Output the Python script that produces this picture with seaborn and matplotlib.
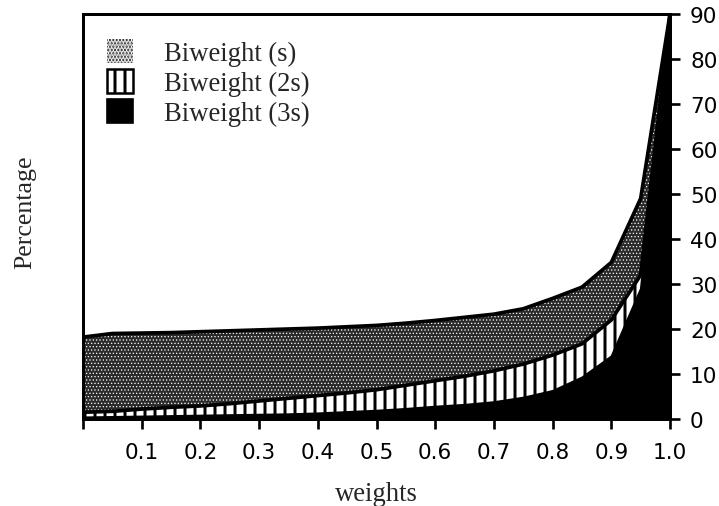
import matplotlib
matplotlib.use("Agg")
import matplotlib.pyplot as plt
from matplotlib.patches import Patch
import seaborn as sns
import pandas as pd

# cumulative percentage of observations whose weight falls below each value
weights = [0.0, 0.05, 0.10, 0.15, 0.20, 0.25, 0.30, 0.35, 0.40, 0.45, 0.50,
           0.55, 0.60, 0.65, 0.70, 0.75, 0.80, 0.85, 0.90, 0.95, 1.0]
biweight_s = [18.2, 19.0, 19.1, 19.2, 19.4, 19.6, 19.8, 20.0, 20.2, 20.5, 20.8,
              21.3, 21.9, 22.6, 23.3, 24.5, 26.8, 29.3, 34.8, 49.0, 90.0]
biweight_2s = [1.5, 1.7, 2.2, 2.6, 2.9, 3.4, 4.0, 4.6, 5.2, 5.8, 6.5,
               7.5, 8.5, 9.5, 10.7, 12.2, 14.2, 16.7, 22.0, 32.0, 90.0]
biweight_3s = [0.4, 0.5, 0.6, 0.7, 0.8, 0.9, 1.0, 1.1, 1.3, 1.6, 1.9,
               2.3, 2.8, 3.2, 3.8, 4.8, 6.3, 9.3, 14.0, 29.0, 90.0]
series_labels = ["Biweight (s)", "Biweight (2s)", "Biweight (3s)"]
x_ticks = [0.0, 0.1, 0.2, 0.3, 0.4, 0.5, 0.6, 0.7, 0.8, 0.9, 1.0]
x_tick_labels = ["", "0.1", "0.2", "0.3", "0.4", "0.5", "0.6", "0.7", "0.8", "0.9", "1.0"]
y_ticks = [0, 10, 20, 30, 40, 50, 60, 70, 80, 90]

df = pd.DataFrame({"weights": weights, "s": biweight_s,
                   "2s": biweight_2s, "3s": biweight_3s})

DPI = 120
sns.set_theme(style="white")
serif = ["Liberation Serif", "DejaVu Serif"]
sans = ["DejaVu Sans"]

DOT_LW = 0.45     # fine stipple dots
STRIPE_LW = 1.8   # thick vertical stripes

fig = plt.figure(figsize=(719 / DPI, 507 / DPI), dpi=DPI)
ax = fig.add_axes([83 / 719, 1 - 420 / 507, (670 - 83) / 719, (420 - 15) / 507])

stipple_face = "#2a2a2a"
stipple_dots = "#f4f4f4"
stipple_hatch = "......"

# Biweight (s): stippled band
plt.rcParams["hatch.linewidth"] = DOT_LW
ax.fill_between(df["weights"], 0, df["s"], facecolor=stipple_face, edgecolor="none",
                linewidth=0, zorder=1)
ax.fill_between(df["weights"], 0, df["s"], facecolor="none", edgecolor=stipple_dots,
                hatch=stipple_hatch, linewidth=0, zorder=1.1)
stipple_handle = Patch(facecolor=stipple_face, edgecolor=stipple_dots,
                       hatch=stipple_hatch, linewidth=0)
sns.lineplot(data=df, x="weights", y="s", ax=ax, color="black", linewidth=2.2, zorder=1.2)

# Biweight (2s): vertical stripes
plt.rcParams["hatch.linewidth"] = STRIPE_LW
ax.fill_between(df["weights"], 0, df["2s"], facecolor="white", edgecolor="black",
                hatch="||", linewidth=0, zorder=2)
stripe_handle = Patch(facecolor="white", edgecolor="black", hatch="||", linewidth=1.5)
sns.lineplot(data=df, x="weights", y="2s", ax=ax, color="black", linewidth=2.2, zorder=2.2)

# Biweight (3s): solid black
ax.fill_between(df["weights"], 0, df["3s"], facecolor="black", edgecolor="black",
                linewidth=1.5, zorder=3)
solid_handle = Patch(facecolor="black", edgecolor="black")

ax.set_xlim(0, 1.0)
ax.set_ylim(0, 90)
ax.set_xticks(x_ticks)
ax.set_xticklabels(x_tick_labels, fontfamily=sans, fontsize=13)
ax.set_yticks(y_ticks)
ax.yaxis.tick_right()
ax.set_yticklabels([str(v) for v in y_ticks], fontfamily=sans, fontsize=13)
ax.tick_params(axis="both", direction="out", length=6, width=1.6, color="black",
               labelcolor="black")
ax.tick_params(axis="x", bottom=True, top=False, pad=8)
ax.tick_params(axis="y", right=True, left=False, pad=6)

for side in ["left", "right", "top", "bottom"]:
    ax.spines[side].set_visible(True)
    ax.spines[side].set_color("black")
    ax.spines[side].set_linewidth(1.8)
    ax.spines[side].set_zorder(5)

ax.set_xlabel("")
ax.set_ylabel("")
fig.text((83 + 670) / 2 / 719, 1 - 495 / 507, "weights", ha="center", va="center",
         fontfamily=serif, fontsize=16)
fig.text(25 / 719, 1 - 212 / 507, "Percentage", ha="center", va="center",
         rotation=90, fontfamily=serif, fontsize=15.5)

ax.legend([stipple_handle, stripe_handle, solid_handle], series_labels,
          loc="upper left", frameon=False,
          prop={"family": serif, "size": 16}, handlelength=1.0,
          handleheight=1.0, handletextpad=1.15, labelspacing=0.12,
          borderaxespad=0, bbox_to_anchor=(13 / 587, 1 - 14 / 405))

fig.savefig("out.png", dpi=DPI, facecolor="white")
